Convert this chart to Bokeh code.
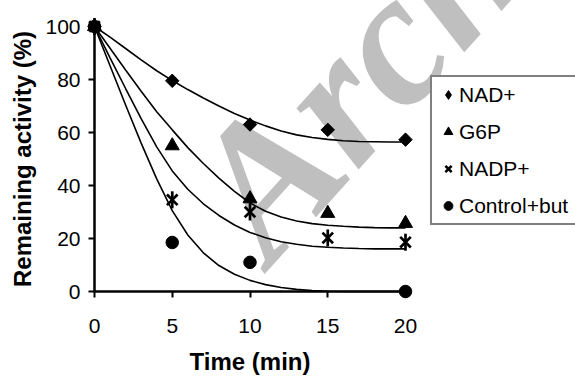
import math
from bokeh.plotting import figure
from bokeh.models import Range1d, FixedTicker, Legend, LegendItem
from bokeh.core.properties import value
from bokeh.embed import file_html
from bokeh.resources import INLINE

# measured points
time_points = [0, 5, 10, 15, 20]
nad = [100, 79.5, 63, 61, 57.3]
g6p = [100, 55, 35, 29.5, 25.7]
nadp = [100, 34.6, 30, 20.2, 18.6]
control_time = [0, 5, 10, 20]
control = [100, 18.5, 11, 0]

# fitted curves
fit_time = list(range(21))
nad_fit = [100, 96, 91.7, 87.4, 83.3, 79.6, 76.2, 73.0, 70.0, 67.2, 64.7,
           62.5, 60.6, 59.1, 58.1, 57.4, 56.9, 56.6, 56.5, 56.4, 56.4]
g6p_fit = [100, 91.8, 83.6, 75.6, 67.8, 61.0, 54.3, 48.3, 42.8, 37.8, 33.4,
           30.3, 28.1, 26.6, 25.6, 25.0, 24.6, 24.3, 24.1, 24.0, 24.0]
nadp_fit = [100, 88.2, 76.6, 65.2, 54.6, 45.5, 38.6, 33.1, 28.7, 25.1, 22.3,
            20.3, 18.8, 17.8, 17.1, 16.7, 16.4, 16.2, 16.1, 16.1, 16.1]
control_fit = [100, 85.2, 70.4, 56.0, 42.5, 30.5, 21.3, 14.6, 9.8, 6.5, 4.2,
               2.6, 1.5, 0.8, 0.4, 0.1, 0, 0, 0, 0, 0]

x_ticks = [0, 5, 10, 15, 20]
y_ticks = [0, 20, 40, 60, 80, 100]
series_labels = ["NAD+", "G6P", "NADP+", "Control+but"]
watermark = ["Archive"]

p = figure(frame_width=311, frame_height=265,
           x_range=Range1d(0, 20), y_range=Range1d(0, 100),
           output_backend="svg", toolbar_location=None,
           min_border_left=94, min_border_right=170, min_border_top=26, min_border_bottom=85)
p.outline_line_color = None
p.grid.visible = False
p.background_fill_color = "white"
p.border_fill_color = "white"

p.xaxis.ticker = FixedTicker(ticks=x_ticks)
p.yaxis.ticker = FixedTicker(ticks=y_ticks)
p.xaxis.axis_label = "Time (min)"
p.yaxis.axis_label = "Remaining activity (%)"
for ax in (p.xaxis[0], p.yaxis[0]):
    ax.axis_line_width = 2.5
    ax.axis_line_color = "black"
    ax.major_tick_line_width = 2
    ax.major_tick_line_color = "black"
    ax.major_tick_in = 0
    ax.major_tick_out = 6
    ax.minor_tick_line_color = None
    ax.major_label_text_font = "Liberation Sans"
    ax.major_label_text_font_size = "21px"
    ax.major_label_text_color = "black"
    ax.axis_label_text_font = "Liberation Sans"
    ax.axis_label_text_font_size = "24px"
    ax.axis_label_text_font_style = "bold"
    ax.axis_label_text_color = "black"
p.yaxis.major_label_standoff = 8
p.yaxis.axis_label_standoff = 6
p.xaxis.major_label_standoff = 21
p.xaxis.axis_label_standoff = 12

# grey watermark, drawn first so the chart lies over it
p.text(x=[8.3], y=[25.5], text=watermark, angle=48 * math.pi / 180,
       text_font=value("Liberation Serif"), text_font_style="bold italic",
       text_font_size="190px", text_color="#bfbfbf",
       text_align="left", text_baseline="alphabetic", level="overlay")

for fy in (nad_fit, g6p_fit, nadp_fit, control_fit):
    p.line(fit_time, fy, line_color="black", line_width=1.6, level="overlay")

# a diamond under the turned square gives the legend its diamond
r_nad_key = p.scatter(time_points, nad, marker="diamond", size=12,
                      fill_color="black", line_color="black", level="overlay")
r_nad = p.scatter(time_points, nad, marker="square", angle=math.pi / 4, size=9.5,
                  fill_color="black", line_color="black", level="overlay")
r_g6p = p.scatter(time_points, g6p, marker="triangle", size=14,
                  fill_color="black", line_color="black", level="overlay")
r_nadp_x = p.scatter(time_points, nadp, marker="x", size=15, line_color="black",
                     line_width=2.7, level="overlay")
r_nadp_bar = p.scatter(time_points, nadp, marker="dash", angle=math.pi / 2, size=17,
                       line_color="black", line_width=2.7, level="overlay")
r_ctrl = p.scatter(control_time, control, marker="circle", size=12.5,
                   fill_color="black", line_color="black", level="overlay")

legend = Legend(items=[LegendItem(label=series_labels[0], renderers=[r_nad_key]),
                       LegendItem(label=series_labels[1], renderers=[r_g6p]),
                       LegendItem(label=series_labels[2], renderers=[r_nadp_x]),
                       LegendItem(label=series_labels[3], renderers=[r_ctrl])],
                location=(25, 66), padding=5, spacing=12, margin=0,
                glyph_width=22, glyph_height=25, label_height=25, label_width=130,
                label_standoff=0, border_line_color="black", border_line_width=2,
                label_text_font="Liberation Sans", label_text_font_size="21px",
                label_text_color="black", background_fill_color="white",
                background_fill_alpha=1)
p.add_layout(legend, "right")

open("out.html", "w").write(file_html(p, INLINE))
